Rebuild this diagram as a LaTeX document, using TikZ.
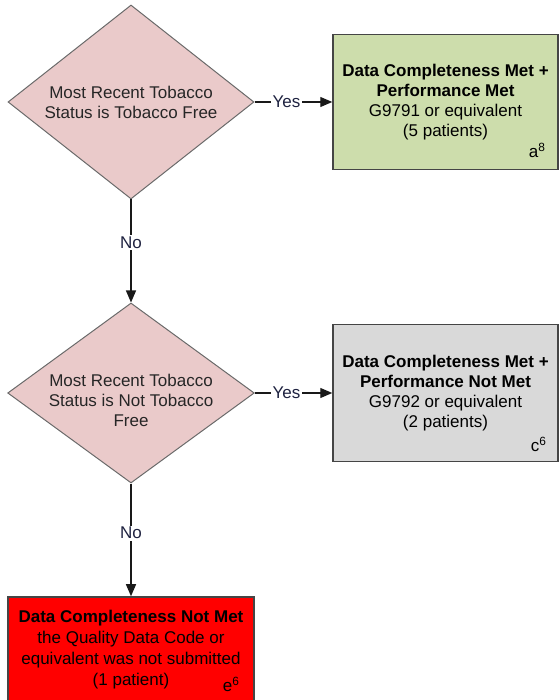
\documentclass[tikz,border=0pt]{standalone}
\usepackage{fontspec}
\setmainfont{Liberation Sans}
\usepackage{tikz}
\usetikzlibrary{shapes.geometric, positioning, arrows.meta}

\definecolor{valgfyll}{HTML}{EACACA}
\definecolor{metgreen}{HTML}{CDDDAC}
\definecolor{notmetgray}{HTML}{D9D9D9}
\definecolor{missred}{HTML}{FF0000}
\definecolor{kant}{HTML}{6A6A6A}
\definecolor{boksekant}{HTML}{454545}
\definecolor{merkeblekk}{HTML}{1E2240}

\begin{document}
\begin{tikzpicture}[x=1pt, y=1pt, font=\fontsize{17pt}{20pt}\selectfont]
        \tikzset{
            % Define standard arrow tip
            >={Triangle[length=12pt, width=10pt]},
            % Define style for decisions
            valg/.style={
                    diamond,
                    draw=kant, line width=1pt,
                    fill=valgfyll,
                    text=black!85,
                    shape aspect=1.27,
                    inner sep=0pt,
                    minimum width=246pt,
                    minimum height=194pt,
                    align=center},
            % Define style for boxes
            boks/.style={
                    rectangle,
                    draw=boksekant, line width=1.5pt,
                    minimum width=225pt,
                    minimum height=135pt,
                    align=center},
            % Define arrow style
            pil/.style={
                    ->,
                    draw=black!90,
                    line width=1.2pt},
            % Define style for Yes/No labels
            merke/.style={
                    fill=white,
                    text=merkeblekk,
                    inner sep=1.5pt},
            % Define style for footnote letters
            fotnote/.style={
                    inner sep=0pt}
        }
        \useasboundingbox (0,0) rectangle (559,700);

        % Draw the decisions and outcomes
        \node[valg] (d1) at (131,598) {Most Recent Tobacco\\Status is Tobacco Free};
        \node[boks, fill=metgreen, right of=d1, node distance=314.5pt] (met)
            {\textbf{Data Completeness Met +}\\\textbf{Performance Met}\\G9791 or equivalent\\(5 patients)};
        \node[valg, shape aspect=1.37, minimum height=180pt, below of=d1, node distance=291pt] (d2)
            {\raisebox{-10pt}[\height][\depth]{\begin{tabular}{@{}c@{}}Most Recent Tobacco\\Status is Not Tobacco\\Free\end{tabular}}};
        \node[boks, fill=notmetgray, minimum height=137pt, right of=d2, node distance=314.5pt] (notmet)
            {\textbf{Data Completeness Met +}\\\textbf{Performance Not Met}\\G9792 or equivalent\\(2 patients)};
        \node[boks, fill=missred, minimum width=246pt, minimum height=105pt, font=\fontsize{17pt}{21pt}\selectfont,
              below of=d2, node distance=256.5pt] (miss)
            {\textbf{Data Completeness Not Met}\\the Quality Data Code or\\equivalent was not submitted\\(1 patient)};

        % Footnote letters
        \node[fotnote, above left=12pt and 13pt of met.south east] (a8) {a\textsuperscript{8}};
        \node[fotnote, above left=10pt and 12pt of notmet.south east] (c6) {c\textsuperscript{6}};
        \node[fotnote, above left=11pt and 15pt of miss.south east] (e6) {e\textsuperscript{6}};

        % Connect the decisions with arrows
        \draw[pil] (d1) -- node[merke, pos=0.41] {Yes} (met);
        \draw[pil] (d1) -- node[merke, pos=0.42] {No} (d2);
        \draw[pil] (d2) -- node[merke, pos=0.41] {Yes} (notmet);
        \draw[pil] (d2) -- node[merke, pos=0.44] {No} (miss);

    \end{tikzpicture}
\end{document}
